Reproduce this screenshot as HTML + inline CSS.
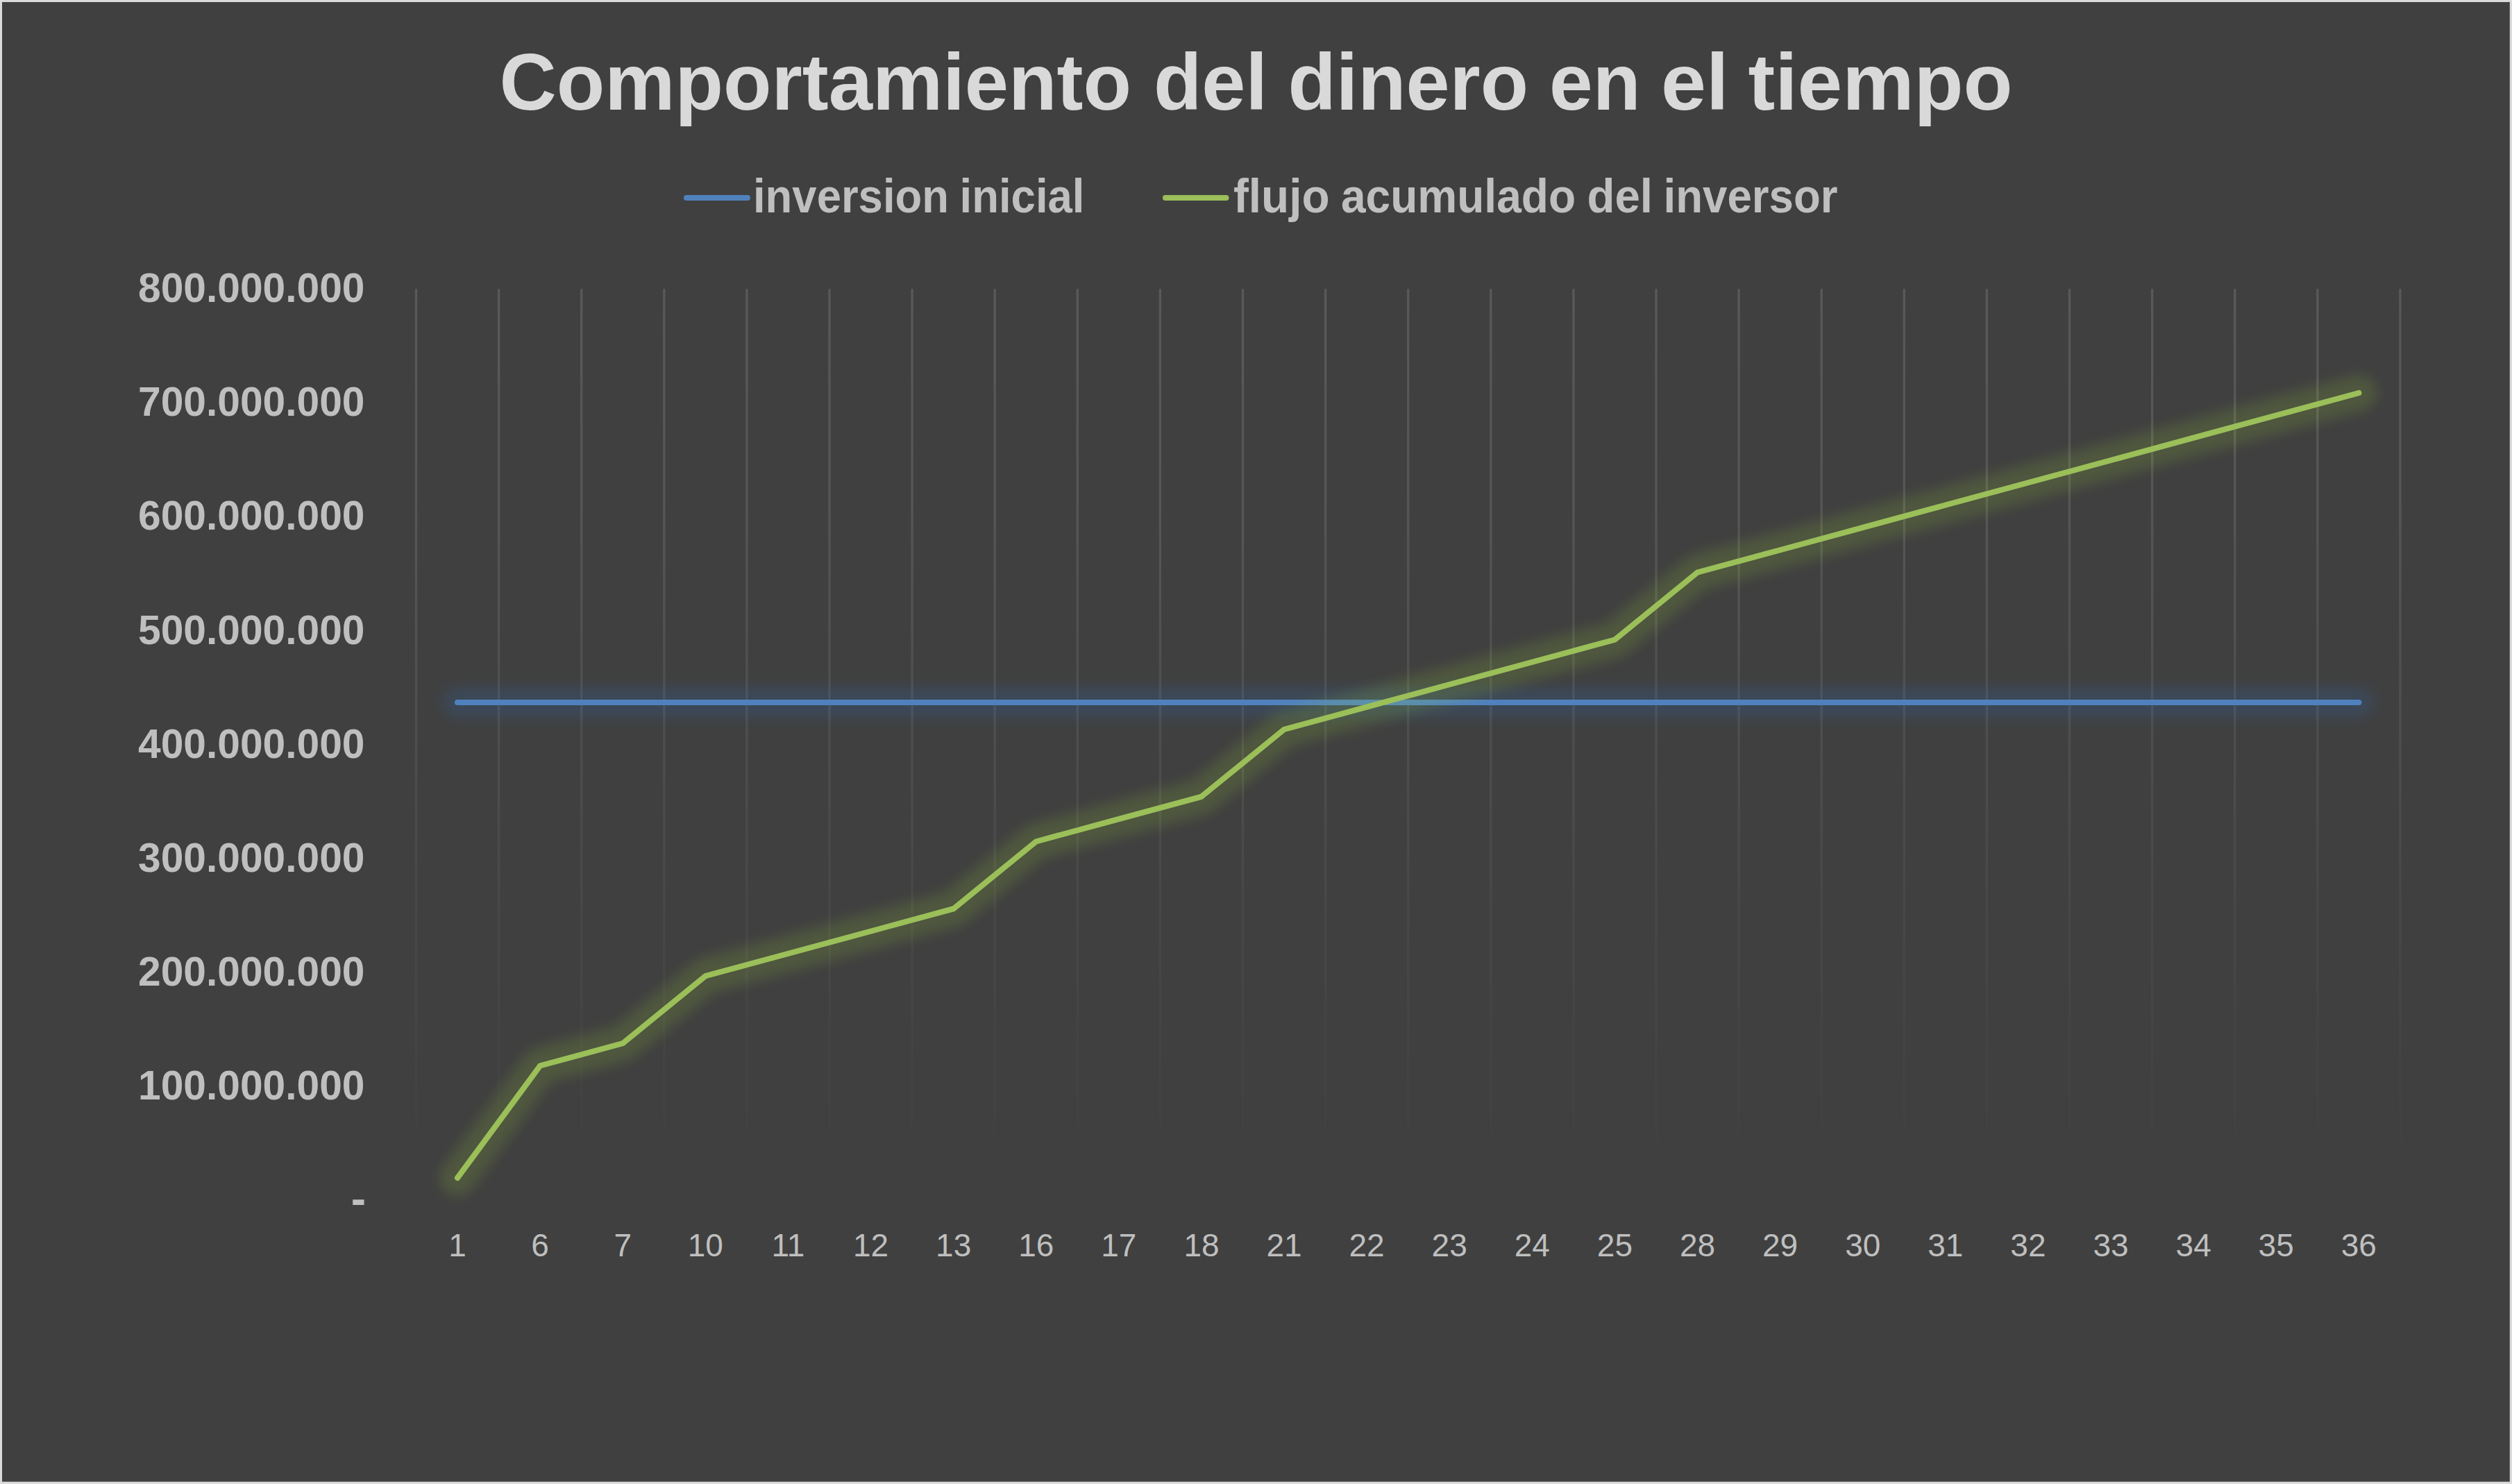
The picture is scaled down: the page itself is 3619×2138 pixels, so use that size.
<!DOCTYPE html>
<html lang="es"><head><meta charset="utf-8"><title>Comportamiento del dinero en el tiempo</title>
<style>
html,body{margin:0;padding:0;background:#404040;overflow:hidden}
svg{display:block}
text{font-family:"Liberation Sans",sans-serif}
.b{font-weight:bold}
</style></head><body>
<svg width="3619" height="2138" viewBox="0 0 3619 2138">
<defs>
<linearGradient id="gg" gradientUnits="userSpaceOnUse" x1="0" y1="416" x2="0" y2="1728">
<stop offset="0" stop-color="#fff" stop-opacity="0.13"/>
<stop offset="0.23" stop-color="#fff" stop-opacity="0.115"/>
<stop offset="0.53" stop-color="#fff" stop-opacity="0.068"/>
<stop offset="0.68" stop-color="#fff" stop-opacity="0.04"/>
<stop offset="0.953" stop-color="#fff" stop-opacity="0.004"/>
<stop offset="0.957" stop-color="#fff" stop-opacity="0"/>
<stop offset="1" stop-color="#fff" stop-opacity="0"/>
</linearGradient>
<filter id="glow" filterUnits="userSpaceOnUse" x="500" y="400" width="3100" height="1450"><feGaussianBlur stdDeviation="9"/></filter>
</defs>
<rect x="0" y="0" width="3619" height="2138" fill="#dbdbdb"/>
<rect x="3" y="3" width="3612.8" height="2131.7" fill="#404040"/>
<path d="M0 0h1v1h-1zM3618 0h1v1h-1zM0 2137h1v1h-1zM3618 2137h1v1h-1z" fill="#f4f4f4"/>
<g fill="url(#gg)"><rect x="597.85" y="416.2" width="3.3" height="1311.8"/><rect x="716.95" y="416.2" width="3.3" height="1311.8"/><rect x="836.05" y="416.2" width="3.3" height="1311.8"/><rect x="955.15" y="416.2" width="3.3" height="1311.8"/><rect x="1074.25" y="416.2" width="3.3" height="1311.8"/><rect x="1193.35" y="416.2" width="3.3" height="1311.8"/><rect x="1312.45" y="416.2" width="3.3" height="1311.8"/><rect x="1431.55" y="416.2" width="3.3" height="1311.8"/><rect x="1550.65" y="416.2" width="3.3" height="1311.8"/><rect x="1669.75" y="416.2" width="3.3" height="1311.8"/><rect x="1788.85" y="416.2" width="3.3" height="1311.8"/><rect x="1907.95" y="416.2" width="3.3" height="1311.8"/><rect x="2027.05" y="416.2" width="3.3" height="1311.8"/><rect x="2146.15" y="416.2" width="3.3" height="1311.8"/><rect x="2265.25" y="416.2" width="3.3" height="1311.8"/><rect x="2384.35" y="416.2" width="3.3" height="1311.8"/><rect x="2503.45" y="416.2" width="3.3" height="1311.8"/><rect x="2622.55" y="416.2" width="3.3" height="1311.8"/><rect x="2741.65" y="416.2" width="3.3" height="1311.8"/><rect x="2860.75" y="416.2" width="3.3" height="1311.8"/><rect x="2979.85" y="416.2" width="3.3" height="1311.8"/><rect x="3098.95" y="416.2" width="3.3" height="1311.8"/><rect x="3218.05" y="416.2" width="3.3" height="1311.8"/><rect x="3337.15" y="416.2" width="3.3" height="1311.8"/><rect x="3456.25" y="416.2" width="3.3" height="1311.8"/></g>
<g fill="none" stroke-linecap="round" stroke-linejoin="round">
<g filter="url(#glow)" opacity="0.145"><path d="M659.05 1012.0H3398.35" stroke="#267de6" stroke-width="44"/></g>
<path d="M659.05 1012.0H3398.35" stroke="#4f81bd" stroke-width="8.2"/>
<g filter="url(#glow)" opacity="0.145"><polyline points="659.05,1696.99 778.15,1535.44 897.25,1503.13 1016.35,1406.20 1135.45,1373.89 1254.55,1341.58 1373.65,1309.27 1492.75,1212.34 1611.85,1180.03 1730.95,1147.72 1850.05,1050.79 1969.15,1018.48 2088.25,986.17 2207.35,953.86 2326.45,921.55 2445.55,824.62 2564.65,792.31 2683.75,760.00 2802.85,727.69 2921.95,695.38 3041.05,663.07 3160.15,630.76 3279.25,598.45 3398.35,566.14" stroke="#a8e034" stroke-width="52"/></g>
<polyline points="659.05,1696.99 778.15,1535.44 897.25,1503.13 1016.35,1406.20 1135.45,1373.89 1254.55,1341.58 1373.65,1309.27 1492.75,1212.34 1611.85,1180.03 1730.95,1147.72 1850.05,1050.79 1969.15,1018.48 2088.25,986.17 2207.35,953.86 2326.45,921.55 2445.55,824.62 2564.65,792.31 2683.75,760.00 2802.85,727.69 2921.95,695.38 3041.05,663.07 3160.15,630.76 3279.25,598.45 3398.35,566.14" stroke="#9bbf59" stroke-width="8.1"/>
<path d="M989 285H1077" stroke="#4f81bd" stroke-width="8"/>
<path d="M1679 285H1766.5" stroke="#9bbf59" stroke-width="8"/>
</g>
<text class="b" y="157.5" font-size="114.5" fill="#d9d9d9"><tspan x="719.5" textLength="910.5" lengthAdjust="spacingAndGlyphs">Comportamiento</tspan> <tspan x="1662.0" textLength="164.0" lengthAdjust="spacingAndGlyphs">del</tspan> <tspan x="1855.5" textLength="346.5" lengthAdjust="spacingAndGlyphs">dinero</tspan> <tspan x="2232.0" textLength="131.5" lengthAdjust="spacingAndGlyphs">en</tspan> <tspan x="2393.0" textLength="97.5" lengthAdjust="spacingAndGlyphs">el</tspan> <tspan x="2518.5" textLength="381.0" lengthAdjust="spacingAndGlyphs">tiempo</tspan></text>
<g class="b" font-size="69" fill="#bfbfbf">
<text y="305.5"><tspan x="1085.0" textLength="282.0" lengthAdjust="spacingAndGlyphs">inversion</tspan> <tspan x="1382.5" textLength="180.0" lengthAdjust="spacingAndGlyphs">inicial</tspan></text>
<text y="305.5"><tspan x="1777.0" textLength="138.5" lengthAdjust="spacingAndGlyphs">flujo</tspan> <tspan x="1932.0" textLength="338.0" lengthAdjust="spacingAndGlyphs">acumulado</tspan> <tspan x="2286.5" textLength="94.5" lengthAdjust="spacingAndGlyphs">del</tspan> <tspan x="2396.5" textLength="251.0" lengthAdjust="spacingAndGlyphs">inversor</tspan></text>
</g>
<g class="b" font-size="59" fill="#bfbfbf">
<text x="199" y="435.2" textLength="326.5" lengthAdjust="spacingAndGlyphs">800.000.000</text>
<text x="199" y="599.3" textLength="326.5" lengthAdjust="spacingAndGlyphs">700.000.000</text>
<text x="199" y="763.4" textLength="326.5" lengthAdjust="spacingAndGlyphs">600.000.000</text>
<text x="199" y="927.5" textLength="326.5" lengthAdjust="spacingAndGlyphs">500.000.000</text>
<text x="199" y="1091.6" textLength="326.5" lengthAdjust="spacingAndGlyphs">400.000.000</text>
<text x="199" y="1255.7" textLength="326.5" lengthAdjust="spacingAndGlyphs">300.000.000</text>
<text x="199" y="1419.8" textLength="326.5" lengthAdjust="spacingAndGlyphs">200.000.000</text>
<text x="199" y="1583.9" textLength="326.5" lengthAdjust="spacingAndGlyphs">100.000.000</text>
</g>
<text class="b" x="527" y="1749" font-size="64" fill="#bfbfbf" text-anchor="end">-</text>
<g font-size="46" fill="#bfbfbf" text-anchor="middle">
<text x="659.0" y="1809.5">1</text>
<text x="778.1" y="1809.5">6</text>
<text x="897.2" y="1809.5">7</text>
<text x="1016.3" y="1809.5">10</text>
<text x="1135.4" y="1809.5">11</text>
<text x="1254.5" y="1809.5">12</text>
<text x="1373.7" y="1809.5">13</text>
<text x="1492.8" y="1809.5">16</text>
<text x="1611.8" y="1809.5">17</text>
<text x="1731.0" y="1809.5">18</text>
<text x="1850.0" y="1809.5">21</text>
<text x="1969.1" y="1809.5">22</text>
<text x="2088.2" y="1809.5">23</text>
<text x="2207.3" y="1809.5">24</text>
<text x="2326.4" y="1809.5">25</text>
<text x="2445.6" y="1809.5">28</text>
<text x="2564.6" y="1809.5">29</text>
<text x="2683.8" y="1809.5">30</text>
<text x="2802.8" y="1809.5">31</text>
<text x="2921.9" y="1809.5">32</text>
<text x="3041.0" y="1809.5">33</text>
<text x="3160.2" y="1809.5">34</text>
<text x="3279.2" y="1809.5">35</text>
<text x="3398.3" y="1809.5">36</text>
</g>
</svg></body></html>
